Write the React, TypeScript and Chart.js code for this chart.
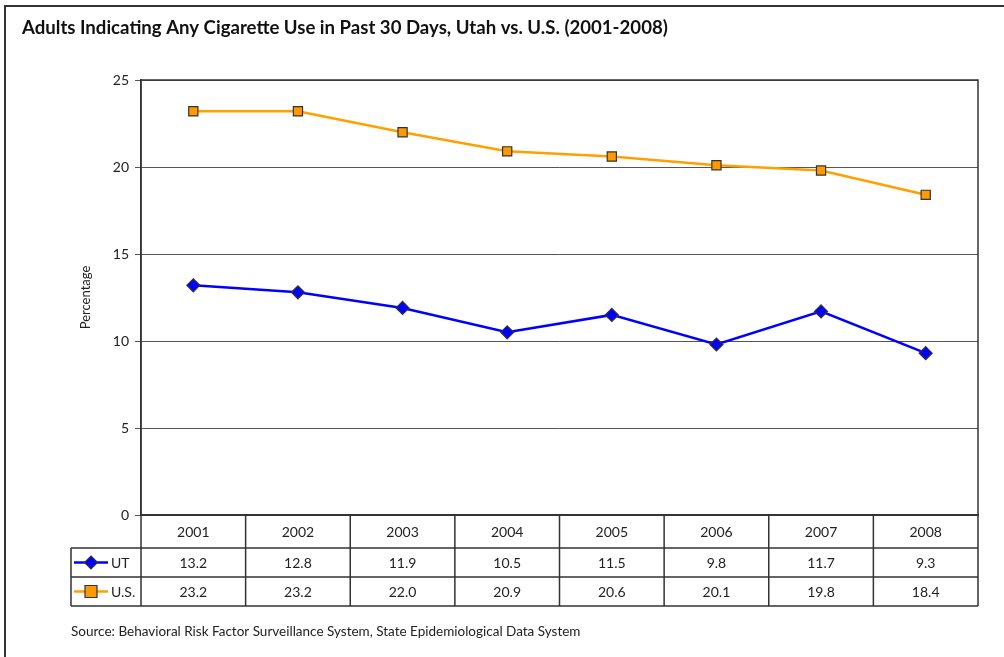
import React, { useEffect, useRef } from "react";
import { Chart, registerables } from "chart.js";

Chart.register(...registerables);

const TITLE = "Adults Indicating Any Cigarette Use in Past 30 Days, Utah vs. U.S. (2001-2008)";
const SOURCE = "Source: Behavioral Risk Factor Surveillance System, State Epidemiological Data System";
const YEARS = ["2001", "2002", "2003", "2004", "2005", "2006", "2007", "2008"];
const UT_VALUES = [13.2, 12.8, 11.9, 10.5, 11.5, 9.8, 11.7, 9.3];
const US_VALUES = [23.2, 23.2, 22.0, 20.9, 20.6, 20.1, 19.8, 18.4];
const Y_TICKS = [0, 5, 10, 15, 20, 25];

const FONT = "Lato, 'Open Sans', sans-serif";
const UT_COLOR = "#0000FF";
const US_LINE = "#FFA000";
const US_FILL = "#FF9900";
const EDGE = "#333333";

const WIDTH = 1004;
const HEIGHT = 657;
const HEADER_H = 33;
const ROW_H = 29;
const TABLE_LEFT = 71;

// Title, source line, plot-area frame and the data table beneath the x axis
const decorPlugin = {
  id: "decor",
  afterDraw(chart: any) {
    const { ctx, chartArea } = chart;
    const xs = chart.scales.x;
    const { left, right, top, bottom } = chartArea;
    const colW = (right - left) / YEARS.length;

    ctx.save();
    // title
    ctx.fillStyle = "#111";
    ctx.font = `bold 18.6px ${FONT}`;
    ctx.textAlign = "left";
    ctx.textBaseline = "middle";
    ctx.fillText(TITLE, 22, 28);

    // plot frame
    ctx.strokeStyle = EDGE;
    ctx.lineWidth = 1.5;
    ctx.strokeRect(left, top, right - left, bottom - top);

    // table grid
    const rowsTop = bottom + HEADER_H;
    const tableBottom = rowsTop + ROW_H * 2;
    ctx.beginPath();
    ctx.moveTo(left, bottom);
    ctx.lineTo(left, tableBottom);
    ctx.moveTo(right, bottom);
    ctx.lineTo(right, tableBottom);
    for (let i = 1; i < YEARS.length; i++) {
      const xx = left + colW * i;
      ctx.moveTo(xx, bottom);
      ctx.lineTo(xx, tableBottom);
    }
    ctx.moveTo(TABLE_LEFT, rowsTop);
    ctx.lineTo(right, rowsTop);
    ctx.moveTo(TABLE_LEFT, rowsTop + ROW_H);
    ctx.lineTo(right, rowsTop + ROW_H);
    ctx.moveTo(TABLE_LEFT, tableBottom);
    ctx.lineTo(right, tableBottom);
    ctx.moveTo(TABLE_LEFT, rowsTop);
    ctx.lineTo(TABLE_LEFT, tableBottom);
    ctx.stroke();

    // table text
    ctx.fillStyle = "#222";
    ctx.font = `14px ${FONT}`;
    ctx.textAlign = "center";
    YEARS.forEach((y, i) => {
      const cx = xs.getPixelForValue(i);
      ctx.fillText(y, cx, bottom + HEADER_H / 2 + 1);
      ctx.fillText(UT_VALUES[i].toFixed(1), cx, rowsTop + ROW_H / 2 + 1);
      ctx.fillText(US_VALUES[i].toFixed(1), cx, rowsTop + ROW_H * 1.5 + 1);
    });

    // legend keys
    const keyRows = [
      { label: "UT", color: UT_COLOR, fill: UT_COLOR, shape: "diamond" },
      { label: "U.S.", color: US_LINE, fill: US_FILL, shape: "square" },
    ];
    keyRows.forEach((k, r) => {
      const cy = rowsTop + ROW_H * (r + 0.5);
      ctx.strokeStyle = k.color;
      ctx.lineWidth = 2.5;
      ctx.beginPath();
      ctx.moveTo(74, cy);
      ctx.lineTo(108, cy);
      ctx.stroke();
      ctx.fillStyle = k.fill;
      ctx.strokeStyle = EDGE;
      ctx.lineWidth = 1.2;
      ctx.beginPath();
      if (k.shape === "diamond") {
        ctx.moveTo(91, cy - 6.5);
        ctx.lineTo(97.5, cy);
        ctx.lineTo(91, cy + 6.5);
        ctx.lineTo(84.5, cy);
        ctx.closePath();
      } else {
        ctx.rect(85, cy - 6, 12, 12);
      }
      ctx.fill();
      ctx.stroke();
      ctx.fillStyle = "#222";
      ctx.textAlign = "left";
      ctx.fillText(k.label, 111, cy + 1);
    });

    // source
    ctx.font = `13.5px ${FONT}`;
    ctx.fillStyle = "#222";
    ctx.fillText(SOURCE, 71, 632);
    ctx.restore();
  },
};

export default function App() {
  const canvasRef = useRef<HTMLCanvasElement>(null);

  useEffect(() => {
    const canvas = canvasRef.current;
    if (!canvas) return;
    const chart = new Chart(canvas, {
      type: "line",
      data: {
        labels: YEARS,
        datasets: [
          {
            label: "UT",
            data: UT_VALUES,
            borderColor: UT_COLOR,
            backgroundColor: UT_COLOR,
            borderWidth: 2.5,
            pointStyle: "rectRot",
            pointRadius: 6.5,
            pointBorderColor: EDGE,
            pointBorderWidth: 1.2,
            pointBackgroundColor: UT_COLOR,
            tension: 0,
          },
          {
            label: "U.S.",
            data: US_VALUES,
            borderColor: US_LINE,
            backgroundColor: US_FILL,
            borderWidth: 2.5,
            pointStyle: "rect",
            pointRadius: 6.5,
            pointBorderColor: EDGE,
            pointBorderWidth: 1.2,
            pointBackgroundColor: US_FILL,
            tension: 0,
          },
        ],
      },
      options: {
        responsive: false,
        animation: false,
        layout: { padding: { top: 80, right: 26, bottom: HEIGHT - 515, left: 0 } },
        plugins: {
          legend: { display: false },
          tooltip: { enabled: false },
          title: { display: false },
        },
        scales: {
          x: {
            type: "category",
            offset: true,
            grid: { display: false },
            border: { display: true, color: EDGE, width: 1.5 },
            ticks: { display: false },
            afterFit: (s: any) => {
              s.height = 0;
            },
          },
          y: {
            min: 0,
            max: 25,
            afterBuildTicks: (s: any) => {
              s.ticks = Y_TICKS.map((v) => ({ value: v }));
            },
            grid: {
              color: "#555",
              lineWidth: 1,
              tickLength: 6,
              drawOnChartArea: true,
            },
            border: { display: true, color: EDGE, width: 1.5 },
            ticks: {
              padding: 6,
              color: "#222",
              font: { family: FONT, size: 14 },
            },
            title: {
              display: true,
              text: "Percentage",
              color: "#222",
              font: { family: FONT, size: 13 },
              padding: { top: 78, bottom: 0 },
            },
            afterFit: (s: any) => {
              s.width = 141;
            },
          },
        },
      },
      plugins: [decorPlugin],
    });
    return () => chart.destroy();
  }, []);

  return (
    <div style={{ position: "absolute", left: 0, top: 0, width: WIDTH, height: HEIGHT, background: "#fff" }}>
      <div
        style={{
          position: "absolute",
          left: 4,
          top: 5,
          right: 0,
          bottom: 0,
          borderLeft: "2px solid #333",
          borderTop: "2px solid #333",
        }}
      />
      <canvas
        ref={canvasRef}
        width={WIDTH}
        height={HEIGHT}
        style={{ position: "absolute", left: 0, top: 0 }}
      />
    </div>
  );
}
